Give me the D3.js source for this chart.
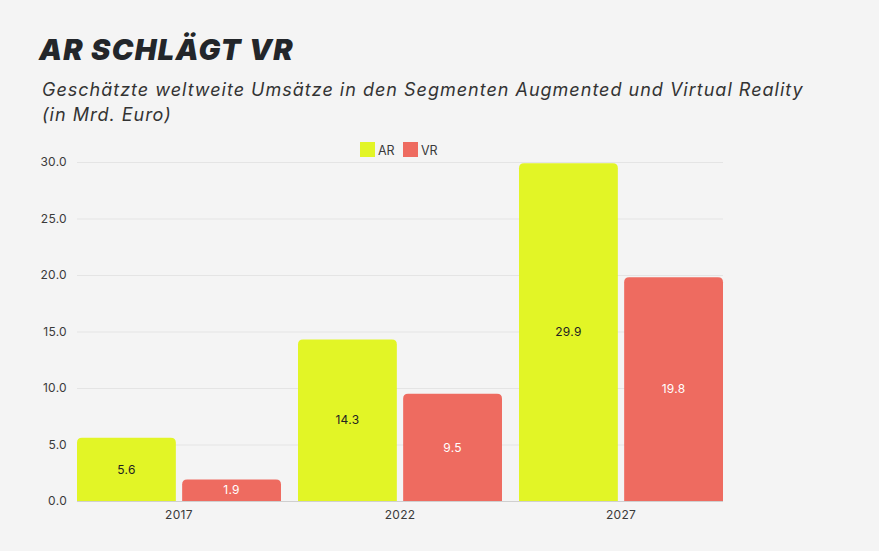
<html>
<head>
    <meta charset="utf-8">
    <style>
        body {
            margin: 0;
            background: #f4f4f4;
            font-family: Inter, sans-serif;
        }
        .grid line {
            stroke: #e4e4e4;
        }
        .tick text {
            fill: #3a3a3a;
            font-size: 12px;
            font-family: Inter, sans-serif;
            letter-spacing: 0.3px;
        }
    </style>
    <script src="https://cdn.jsdelivr.net/npm/d3@7"></script>
</head>
<body>
<script>
    // chart data
    let years = ["2017", "2022", "2027"];
    let seriesNames = ["AR", "VR"];
    let arValues = [5.6, 14.3, 29.9];
    let vrValues = [1.9, 9.5, 19.8];
    let yTicks = [0, 5, 10, 15, 20, 25, 30];
    let seriesColors = ["#e2f526", "#ee6b60"];
    let labelColors = ["#222222", "#ffffff"];

    function getConfig() {
        let width = 879;
        let height = 551;
        let margin = { top: 162, bottom: 50, left: 77, right: 156 };
        let bodyWidth = width - margin.left - margin.right;
        let bodyHeight = height - margin.top - margin.bottom;
        let svg = d3.select("body")
            .append("svg")
            .attr("width", width)
            .attr("height", height);
        svg.append("rect")
            .attr("width", width)
            .attr("height", height)
            .attr("fill", "#f4f4f4");
        let container = svg.append("g")
            .attr("transform", "translate(" + [margin.left, margin.top] + ")");
        return { width, height, margin, bodyWidth, bodyHeight, svg, container };
    }

    function getScales(config) {
        let { bodyWidth, bodyHeight } = config;
        let xScale = d3.scaleBand()
            .domain(years)
            .range([0, bodyWidth])
            .paddingInner(0.077)
            .paddingOuter(0);
        let sScale = d3.scaleBand()
            .domain(seriesNames)
            .range([0, xScale.bandwidth()])
            .paddingInner(0.06);
        let yScale = d3.scaleLinear()
            .domain([0, 30])
            .range([bodyHeight, 0]);
        let cScale = d3.scaleOrdinal().domain(seriesNames).range(seriesColors);
        let tScale = d3.scaleOrdinal().domain(seriesNames).range(labelColors);
        return { xScale, sScale, yScale, cScale, tScale };
    }

    function drawTitles(config) {
        let { svg } = config;
        svg.append("text")
            .attr("x", 39)
            .attr("y", 60)
            .attr("fill", "#23262a")
            .style("font-family", "Inter, sans-serif")
            .style("font-weight", 900)
            .style("font-style", "italic")
            .style("font-size", "29px")
            .style("letter-spacing", "1.3px")
            .text("AR SCHLÄGT VR");
        let sub = svg.append("text")
            .attr("fill", "#333")
            .style("font-family", "Inter, sans-serif")
            .style("font-style", "italic")
            .style("font-size", "18px")
            .style("letter-spacing", "1px");
        sub.append("tspan").attr("x", 42).attr("y", 96)
            .text("Geschätzte weltweite Umsätze in den Segmenten Augmented und Virtual Reality");
        sub.append("tspan").attr("x", 42).attr("y", 121)
            .text("(in Mrd. Euro)");
    }

    function drawLegend(config, scales) {
        let { svg } = config;
        let { cScale } = scales;
        let legend = svg.append("g").attr("transform", "translate(360,142)");
        let offsets = [0, 43];
        seriesNames.forEach((name, i) => {
            let item = legend.append("g").attr("transform", "translate(" + offsets[i] + ",0)");
            item.append("rect")
                .attr("width", 15)
                .attr("height", 15)
                .attr("fill", cScale(name));
            item.append("text")
                .attr("x", 18)
                .attr("y", 12.5)
                .attr("fill", "#3a3a3a")
                .style("font-size", "12.5px")
                .text(name);
        });
    }

    function drawAxes(config, scales) {
        let { container, bodyWidth, bodyHeight } = config;
        let { xScale, yScale } = scales;
        let grid = container.append("g")
            .attr("class", "grid")
            .call(d3.axisLeft(yScale)
                .tickValues(yTicks)
                .tickSize(-bodyWidth)
                .tickPadding(10)
                .tickFormat(d3.format(".1f")));
        grid.select(".domain").remove();
        grid.selectAll(".tick line")
            .filter(d => d === 0)
            .style("stroke", "#cfcfcf");

        let axisX = container.append("g")
            .attr("transform", "translate(0," + bodyHeight + ")")
            .call(d3.axisBottom(xScale).tickSize(0).tickPadding(9));
        axisX.select(".domain").remove();
    }

    function roundTopPath(x, y, w, h, r) {
        r = Math.min(r, h, w / 2);
        return "M" + x + "," + (y + h) +
            "V" + (y + r) +
            "Q" + x + "," + y + " " + (x + r) + "," + y +
            "H" + (x + w - r) +
            "Q" + (x + w) + "," + y + " " + (x + w) + "," + (y + r) +
            "V" + (y + h) + "Z";
    }

    function drawBars(config, scales) {
        let { container } = config;
        let { xScale, sScale, yScale, cScale, tScale } = scales;
        let data = [];
        years.forEach((year, i) => {
            data.push({ year: year, series: "AR", value: arValues[i] });
            data.push({ year: year, series: "VR", value: vrValues[i] });
        });
        let bars = container.selectAll(".bar")
            .data(data)
            .enter()
            .append("g")
            .attr("class", "bar");
        bars.append("path")
            .attr("d", d => {
                let x = xScale(d.year) + sScale(d.series);
                let y = yScale(d.value);
                return roundTopPath(x, y, sScale.bandwidth(), yScale(0) - y, 5);
            })
            .attr("fill", d => cScale(d.series));
        bars.append("text")
            .attr("x", d => xScale(d.year) + sScale(d.series) + sScale.bandwidth() / 2)
            .attr("y", d => (yScale(d.value) + yScale(0)) / 2)
            .attr("dy", "0.35em")
            .attr("text-anchor", "middle")
            .attr("fill", d => tScale(d.series))
            .style("font-size", "12px")
            .style("letter-spacing", "0.3px")
            .text(d => d3.format(".1f")(d.value));
    }

    let config = getConfig();
    let scales = getScales(config);
    drawTitles(config);
    drawLegend(config, scales);
    drawAxes(config, scales);
    drawBars(config, scales);
</script>
</body>
</html>
